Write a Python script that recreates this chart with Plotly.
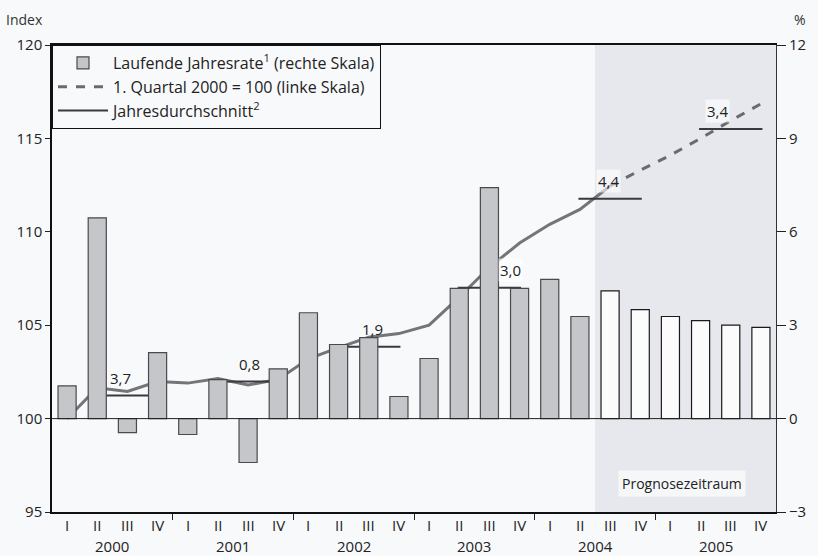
import plotly.graph_objects as go

# ---------------- data ----------------
years = ["2000", "2001", "2002", "2003", "2004", "2005"]
quarters = ["I", "II", "III", "IV"]

# Laufende Jahresrate (%), right scale
rate = [1.05, 6.45, -0.45, 2.12,
        -0.51, 1.25, -1.41, 1.60,
        3.40, 2.38, 2.60, 0.71,
        1.93, 4.18, 7.42, 4.18,
        4.47, 3.28, 4.10, 3.50,
        3.28, 3.15, 3.00, 2.93]
n_actual = 18  # quarters up to 2004 II are actual, the rest forecast

# Index 1. Quartal 2000 = 100 (left scale)
index_vals = [100.0, 101.65, 101.45, 101.98,
              101.90, 102.15, 101.80, 102.10,
              103.20, 103.80, 104.35, 104.55,
              105.00, 106.50, 108.10, 109.40,
              110.40, 111.20, 112.45, 113.30,
              114.10, 115.00, 115.95, 116.85]

# Jahresdurchschnitt (index level) and annual growth labels
annual_avg = [101.23, 101.98, 103.85, 107.00, 111.77, 115.50]
annual_growth = ["3,7", "0,8", "1,9", "3,0", "4,4", "3,4"]

# ---------------- figure ----------------
FONT = "Open Sans"
TXT = "#222"
xq = list(range(len(rate)))
fig = go.Figure()

# forecast shading
fig.add_shape(type="rect", xref="x", yref="paper", x0=n_actual - 0.5, x1=len(rate) - 0.5,
              y0=0, y1=1, fillcolor="#e6e8ed", line_width=0, layer="below")

bar_fill = ["#c4c6c9" if i < n_actual else "#fbfbfc" for i in xq]
bar_line = ["#4a4a4a" if i < n_actual else "#1a1a1a" for i in xq]
fig.add_trace(go.Bar(
    x=xq, y=rate, yaxis="y2", width=0.6,
    marker=dict(color=bar_fill, line=dict(color=bar_line, width=1.2)),
    name="Laufende Jahresrate<sup>1</sup> (rechte Skala)", showlegend=True))

# zero line
fig.add_shape(type="line", xref="paper", yref="y", x0=0, x1=1, y0=100, y1=100,
              line=dict(color="#222", width=1))

# index line: actual (solid) and forecast (dashed)
split = n_actual
fig.add_trace(go.Scatter(
    x=xq[:split + 1], y=index_vals[:split + 1], mode="lines",
    line=dict(color="#74747a", width=3), showlegend=False, hoverinfo="skip"))
fig.add_trace(go.Scatter(
    x=xq[split:], y=index_vals[split:], mode="lines",
    line=dict(color="#6a6a70", width=3, dash="dash"),
    name="1. Quartal 2000 = 100 (linke Skala)"))

# annual average segments (span II–IV of each year)
seg_x, seg_y = [], []
for k, v in enumerate(annual_avg):
    seg_x += [4 * k + 1 - 0.05, 4 * k + 3 + 0.05, None]
    seg_y += [v, v, None]
fig.add_trace(go.Scatter(
    x=seg_x, y=seg_y, mode="lines", line=dict(color="#3a3a3e", width=2),
    name="Jahresdurchschnitt<sup>2</sup>"))

label_dx = [-7, 1, 4, 21, -2, -13]
annotations = []
for k, (v, lab) in enumerate(zip(annual_avg, annual_growth)):
    annotations.append(dict(x=4 * k + 2, y=v, xref="x", yref="y", text=lab,
                            showarrow=False, yshift=18, xshift=label_dx[k],
                            font=dict(family=FONT, size=15, color=TXT),
                            bgcolor="rgba(255,255,255,0.6)" if k >= 3 else None))

# quarter and year labels
for i in xq:
    annotations.append(dict(x=i, y=0, xref="x", yref="paper", text=quarters[i % 4],
                            showarrow=False, yanchor="top", yshift=-1,
                            font=dict(family=FONT, size=15, color=TXT)))
for k, yr in enumerate(years):
    annotations.append(dict(x=4 * k + 1.5, y=0, xref="x", yref="paper", text=yr,
                            showarrow=False, yanchor="top", yshift=-22,
                            font=dict(family=FONT, size=15, color=TXT)))

annotations += [
    dict(x=0, y=1, xref="paper", yref="paper", text="Index", showarrow=False,
         xanchor="left", yanchor="bottom", xshift=-48, yshift=14,
         font=dict(family=FONT, size=14, color="#333")),
    dict(x=1, y=1, xref="paper", yref="paper", text="%", showarrow=False,
         xanchor="left", yanchor="bottom", xshift=16, yshift=14,
         font=dict(family=FONT, size=14, color="#333")),
    dict(x=20.4, y=96.5, xref="x", yref="y", text="Prognosezeitraum", showarrow=False,
         bgcolor="#f6f7f9", borderpad=3,
         font=dict(family=FONT, size=14, color=TXT)),
]

fig.update_layout(
    width=818, height=556,
    margin=dict(l=52, r=32, t=45, b=44),
    paper_bgcolor="#f8f9fb", plot_bgcolor="#f8f9fb",
    font=dict(family=FONT, size=15, color=TXT),
    showlegend=True,
    legend=dict(x=0, y=1, xanchor="left", yanchor="top",
                bgcolor="#f8f9fb", bordercolor="#111", borderwidth=1,
                font=dict(family=FONT, size=16, color=TXT),
                itemwidth=50, tracegroupgap=2),
    annotations=annotations,
    xaxis=dict(range=[-0.5, len(rate) - 0.5], showgrid=False, zeroline=False,
               showline=True, linecolor="#111", linewidth=1.5, mirror=True,
               tickmode="array", tickvals=xq, ticktext=[""] * len(xq), ticks="",
               minor=dict(tickmode="array", tickvals=[4 * k - 0.5 for k in range(1, 6)],
                          ticks="outside", ticklen=6, tickcolor="#222")),
    yaxis=dict(range=[95, 120], tickvals=[95, 100, 105, 110, 115, 120],
               showgrid=False, zeroline=False, showline=True, linecolor="#111",
               linewidth=1.5, ticks="outside", ticklen=5, tickcolor="#222",
               tickfont=dict(family=FONT, size=15, color=TXT)),
    yaxis2=dict(range=[-3, 12], tickvals=[-3, 0, 3, 6, 9, 12], overlaying="y",
                side="right", showgrid=False, zeroline=False, showline=True,
                linecolor="#333", linewidth=1, ticks="outside", ticklen=9,
                tickcolor="#222", tickfont=dict(family=FONT, size=15, color=TXT)),
)

fig.write_html("out.html", config={"displayModeBar": False},
               post_script="document.body.style.margin='0';document.body.style.overflow='hidden';")
